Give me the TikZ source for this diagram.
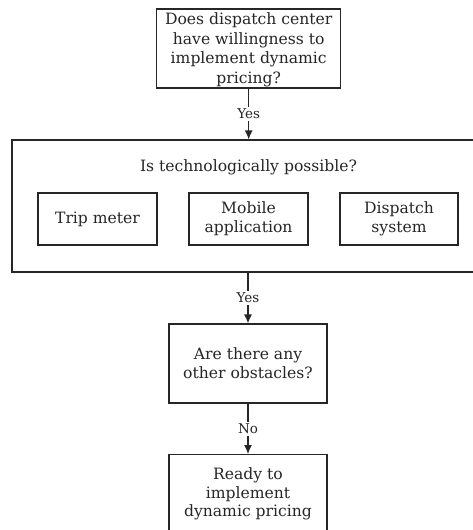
\documentclass[tikz,border=0pt]{standalone}
\usepackage{fontspec}
\setmainfont{DejaVu Serif}
\usetikzlibrary{arrows.meta}
\begin{document}
\begin{tikzpicture}[x=1pt,y=-1pt,
  txt/.style={inner sep=0pt, align=center, font=\fontsize{15.6}{18.8}\selectfont, text=black!85},
  box/.style={txt, draw=black!85, line width=1.2pt, fill=white},
  edge/.style={draw=black!85, line width=1.2pt, -{Latex[length=9pt,width=8pt]}},
  lbl/.style={fill=white, inner sep=2pt, font=\fontsize{13.5}{15}\selectfont, text=black!85}]
\useasboundingbox (0,0) rectangle (472,530);
\node[box, minimum width=184pt, minimum height=79pt] (top) at (248.7,48.5) {};
\node[txt, font=\fontsize{15.6}{19.5}\selectfont] (toptxt) at (248.7,50)
  {Does dispatch center\\have willingness to\\implement dynamic\\pricing?};
\node[box, minimum width=473pt, minimum height=132pt] (big) at (248.5,206) {};
\node[txt] (title) at (248.5,167) {Is technologically possible?};
\node[box, minimum width=119pt, minimum height=52pt] (trip) at (97.5,219) {Trip meter};
\node[box, minimum width=119pt, minimum height=52pt] (mobile) at (248.5,219) {Mobile\\application};
\node[box, minimum width=118pt, minimum height=52pt] (disp) at (399,219) {Dispatch\\system};
\node[box, minimum width=158pt, minimum height=79pt] (obs) at (248,363.5) {Are there any\\other obstacles?};
\node[box, minimum width=158pt, minimum height=86pt, anchor=north] (ready) at (248,454) {};
\node[txt] (readytxt) at (248,494) {Ready to\\implement\\dynamic pricing};
\draw[edge] (top.south) -- node[lbl] {Yes} (top.south |- big.north);
\draw[edge] (big.south -| obs.north) -- node[lbl] {Yes} (obs.north);
\draw[edge] (obs.south) -- node[lbl] {No} (ready.north);
\end{tikzpicture}
\end{document}
